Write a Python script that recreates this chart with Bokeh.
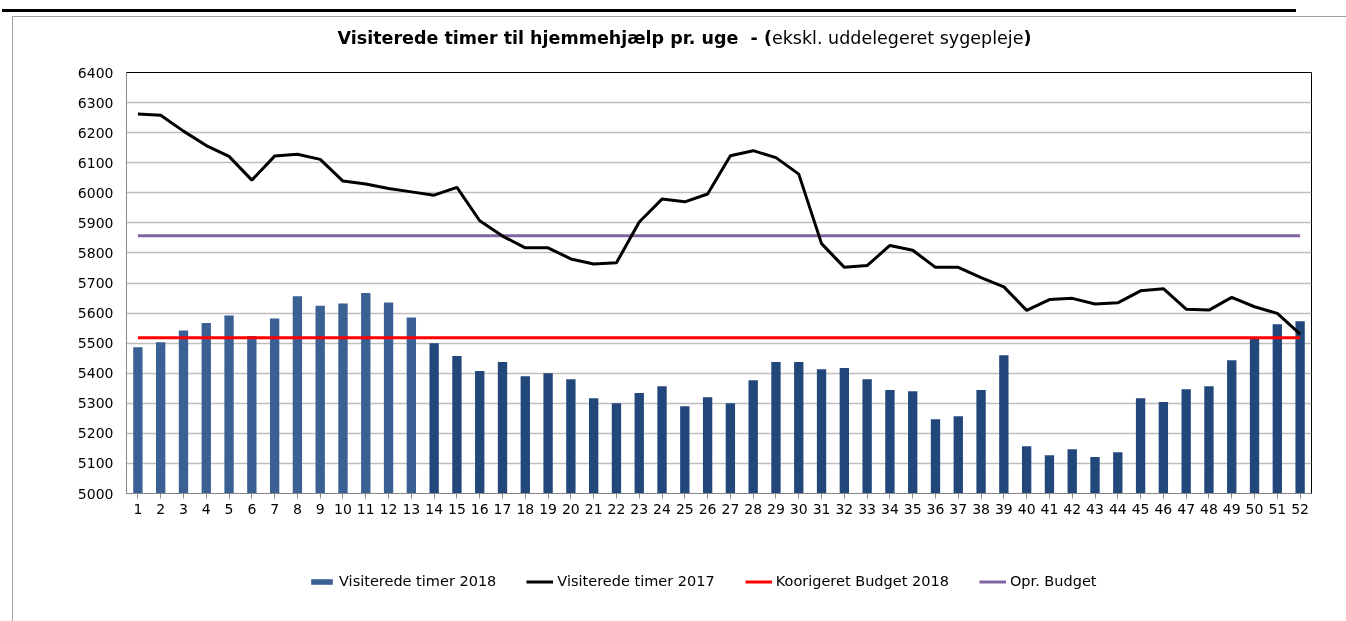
from bokeh.plotting import figure
from bokeh.models import (Range1d, FixedTicker, ColumnDataSource, Legend, LegendItem, Div)
from bokeh.layouts import column
from bokeh.embed import file_html
from bokeh.resources import INLINE

weeks = list(range(1, 53))
timer_2018 = [5486, 5503, 5542, 5567, 5592, 5524, 5582, 5656, 5624, 5632, 5667, 5635, 5585,
              5500, 5457, 5407, 5437, 5390, 5400, 5380, 5317, 5300, 5334, 5357, 5290, 5320,
              5300, 5377, 5437, 5437, 5413, 5417, 5380, 5344, 5340, 5247, 5257, 5344, 5460,
              5157, 5127, 5147, 5121, 5137, 5317, 5304, 5347, 5357, 5443, 5515, 5563, 5573]
timer_2017 = [6262, 6258, 6205, 6157, 6121, 6042, 6122, 6128, 6111, 6039, 6029, 6014, 6003,
              5992, 6018, 5907, 5856, 5817, 5817, 5780, 5763, 5767, 5903, 5979, 5970, 5996,
              6123, 6140, 6117, 6062, 5831, 5752, 5758, 5825, 5809, 5752, 5752, 5718, 5687,
              5609, 5645, 5649, 5630, 5634, 5674, 5681, 5613, 5610, 5652, 5621, 5599, 5530]
korrigeret_budget = [5518] * 52
opr_budget = [5857] * 52
y_ticks = list(range(5000, 6401, 100))
series_names = ["Visiterede timer 2018", "Visiterede timer 2017",
                "Koorigeret Budget 2018", "Opr. Budget"]
title_bold = "Visiterede timer til hjemmehjælp pr. uge&nbsp; - ("
title_normal = "ekskl. uddelegeret sygepleje"

FONT = "DejaVu Sans"
C_BAR1, C_BAR2 = "#3A6094", "#22477A"
C_2017, C_RED, C_PUR = "black", "#FF0000", "#8064A2"
bar_colors = [C_BAR1 if w <= 13 else C_BAR2 for w in weeks]

src = ColumnDataSource(dict(x=weeks, top=timer_2018, c=bar_colors,
                            l17=timer_2017, kb=korrigeret_budget, ob=opr_budget))

DIV_H = 48
FIG_H = 530 - DIV_H
p = figure(width=1346, height=FIG_H, output_backend="svg", toolbar_location=None,
           x_range=Range1d(0.5, 52.5), y_range=Range1d(5000, 6400),
           min_border_left=126, min_border_right=35, min_border_top=72 - DIV_H,
           min_border_bottom=530 - 493, title=None)
p.outline_line_color = "black"
p.outline_line_width = 1
p.background_fill_color = "white"
p.border_fill_color = None

p.vbar(x="x", top="top", bottom=5000, width=0.41, fill_color="c", line_color=None,
       source=src)
p.line("x", "kb", source=src, line_color=C_RED, line_width=3)
p.line("x", "ob", source=src, line_color=C_PUR, line_width=3)
p.line("x", "l17", source=src, line_color=C_2017, line_width=3)

p.xgrid.grid_line_color = None
p.ygrid.grid_line_color = "#BEBEBE"
p.ygrid.grid_line_width = 1.5
p.yaxis.ticker = FixedTicker(ticks=y_ticks)
p.xaxis.ticker = FixedTicker(ticks=weeks)

for ax in (p.xaxis[0], p.yaxis[0]):
    ax.major_label_text_font = FONT
    ax.major_label_text_font_size = "14px"
    ax.major_label_text_color = "black"
    ax.minor_tick_line_color = None
    ax.axis_line_color = "#868686"
p.yaxis.major_tick_line_color = None
p.yaxis.major_tick_out = 0
p.yaxis.major_tick_in = 0
p.yaxis.major_label_standoff = 13
p.xaxis.major_tick_line_color = "#868686"
p.xaxis.major_tick_out = 5
p.xaxis.major_tick_in = 0
p.xaxis.major_label_standoff = 5

# legend figure below the chart (its dummy glyphs lie outside its ranges)
LEG_H = 621 - 530
lf = figure(width=1346, height=LEG_H, output_backend="svg", toolbar_location=None,
            x_range=Range1d(-2, -1), y_range=Range1d(-2, -1), x_axis_type=None,
            y_axis_type=None, min_border=0, title=None)
lf.outline_line_color = None
lf.background_fill_color = None
lf.border_fill_color = None
lf.xgrid.grid_line_color = None
lf.ygrid.grid_line_color = None
g1 = lf.vbar(x=[weeks[0]], top=[timer_2018[0]], width=0.4, fill_color=C_BAR1, line_color=None)
g2 = lf.line(x=[weeks[0]], y=[timer_2017[0]], line_color=C_2017, line_width=3)
g3 = lf.line(x=[weeks[0]], y=[korrigeret_budget[0]], line_color=C_RED, line_width=3)
g4 = lf.line(x=[weeks[0]], y=[opr_budget[0]], line_color=C_PUR, line_width=3)

legend = Legend(items=[LegendItem(label=n, renderers=[r])
                       for n, r in zip(series_names, [g1, g2, g3, g4])],
                orientation="horizontal", location=(308 - 126, 32))
legend.label_text_font = FONT
legend.label_text_font_size = "14.5px"
legend.label_text_color = "black"
legend.glyph_width = 27
legend.glyph_height = 7
legend.label_standoff = 4
legend.spacing = 30
legend.padding = 0
legend.margin = 0
legend.border_line_color = None
legend.background_fill_alpha = 0
lf.add_layout(legend)

html = (
    '<div style="position:relative;width:1346px;height:%dpx;">'
    '<div style="position:fixed;left:2px;top:9px;width:1294px;height:3px;background:#000;"></div>'
    '<div style="position:fixed;left:12px;top:16px;width:1400px;height:700px;'
    'border-left:1px solid #A0A0A0;border-top:1px solid #A0A0A0;"></div>'
    '<div style="position:absolute;left:0;top:28px;width:1369px;text-align:center;'
    'font-family:\'DejaVu Sans\';font-size:17.5px;color:#000;white-space:nowrap;line-height:20px;">'
    '<b>%s</b>%s<b>)</b></div></div>'
) % (DIV_H, title_bold, title_normal)
title_div = Div(text=html, width=1346, height=DIV_H, margin=0)

layout = column(title_div, p, lf, spacing=0)
open("out.html", "w").write(file_html(layout, INLINE))
